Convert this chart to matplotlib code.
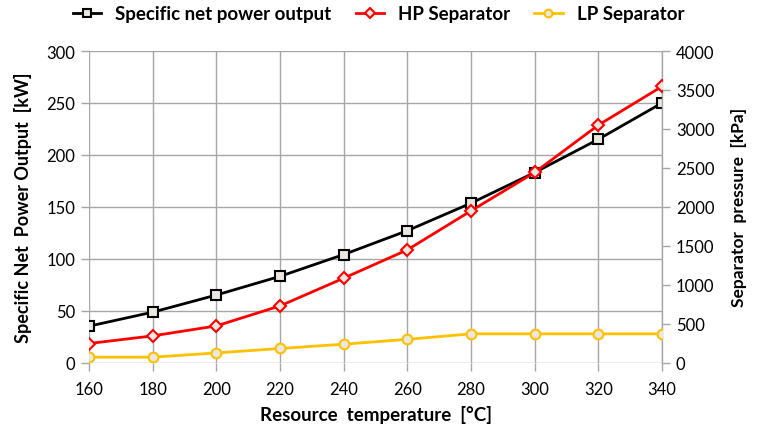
import matplotlib.pyplot as plt

# datos
temperatura = [160, 180, 200, 220, 240, 260, 280, 300, 320, 340]
potencia_kw = [35, 48.5, 65, 83, 104, 127, 153.5, 183, 215, 250]
hp_kpa = [244, 342, 470, 727, 1083, 1447, 1948, 2441, 3049, 3546]
lp_kpa = [68, 68, 123, 180, 235, 298, 368, 368, 368, 368]

plt.rcParams['font.family'] = ['Lato', 'DejaVu Sans']

fig = plt.figure(figsize=(7.57, 4.31), dpi=100)
ax = fig.add_axes([0.1176, 0.1566, 0.757, 0.7227])
ax2 = ax.twinx()

gris = '#a6a6a6'
relleno = '#e9e7df'

l1, = ax.plot(temperatura, potencia_kw, color='black', lw=2, marker='s', ms=7,
              mfc=relleno, mec='black', mew=1.5, label='Specific net power output', zorder=3)
l2, = ax2.plot(temperatura, hp_kpa, color='#ff0000', lw=2, marker='D', ms=6.5,
               mfc=relleno, mec='#ff0000', mew=1.5, label='HP Separator', zorder=3)
l3, = ax2.plot(temperatura, lp_kpa, color='#ffc000', lw=2, marker='o', ms=7,
               mfc=relleno, mec='#ffc000', mew=1.5, label='LP Separator', zorder=3)

ax.set_xlim(160, 340)
ax.set_ylim(0, 300)
ax2.set_ylim(0, 4000)
ax.set_xticks(range(160, 341, 20))
ax.set_yticks(range(0, 301, 50))
ax2.set_yticks(range(0, 4001, 500))

ax.grid(True, color=gris, lw=1)
ax.set_axisbelow(True)

for a in (ax, ax2):
    for s in ('top', 'left', 'bottom', 'right'):
        a.spines[s].set_visible(False)
ax2.spines['right'].set_visible(True)
ax2.spines['right'].set_color(gris)
ax2.spines['right'].set_linewidth(1)

ax.tick_params(axis='both', length=6, width=1, color=gris, labelsize=12, pad=4)
ax2.tick_params(axis='y', length=6, width=1, color=gris, labelsize=12, pad=4)
ax.tick_params(axis='x', pad=7)

ax.set_xlabel('Resource  temperature  [°C]', fontsize=13.5, fontweight='bold', labelpad=6)
ax.set_ylabel('Specific Net  Power Output  [kW]', fontsize=13, fontweight='bold', labelpad=10)
ax2.set_ylabel('Separator  pressure  [kPa]', fontsize=12.5, fontweight='bold', labelpad=12)

fig.legend(handles=[l1, l2, l3], loc='upper center', bbox_to_anchor=(0.5, 1.025), ncol=3,
           frameon=False, prop={'weight': 'bold', 'size': 13.5}, handlelength=1.5,
           columnspacing=1.3, handletextpad=0.75, markerscale=0.8)

fig.savefig('out.png', dpi=100)
